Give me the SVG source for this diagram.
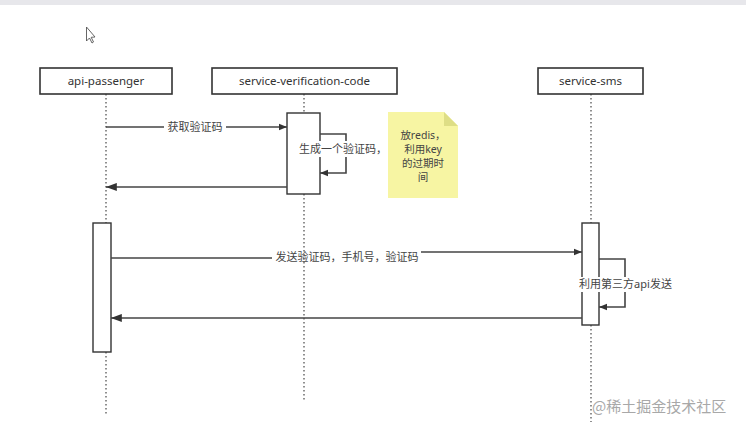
<svg xmlns="http://www.w3.org/2000/svg" width="746" height="429" viewBox="0 0 746 429">
<defs>
<style>
.box{fill:#fff;stroke:#333;stroke-width:1.6}
.act{fill:#fff;stroke:#333;stroke-width:1.4}
.life{stroke:#555;stroke-width:1.3;stroke-dasharray:1.5 2.5;fill:none}
.msg{stroke:#444;stroke-width:1.6;fill:none}
.t{font-family:"Noto Sans","Noto Sans CJK SC",sans-serif;font-size:11.5px;fill:#333;text-anchor:middle}
.lbl{font-family:"Noto Sans","Noto Sans CJK SC",sans-serif;font-size:11px;fill:#444;text-anchor:middle}
.nt{font-family:"Noto Sans","Noto Sans CJK SC",sans-serif;font-size:10.5px;fill:#444;text-anchor:middle}
</style>
<marker id="ah" viewBox="0 0 10 10" refX="10" refY="5" markerWidth="8" markerHeight="8" orient="auto" markerUnits="userSpaceOnUse">
<path d="M0,1 L10,5 L0,9 Z" fill="#333"/>
</marker>
<marker id="ahL" viewBox="0 0 12 10" refX="12" refY="5" markerWidth="11" markerHeight="9" orient="auto" markerUnits="userSpaceOnUse">
<path d="M0,0.5 L12,5 L0,9.5 Z" fill="#333"/>
</marker>
</defs>
<rect x="0" y="0" width="746" height="429" fill="#fff"/>
<rect x="0" y="0" width="746" height="5" fill="#e7e7eb"/>
<path d="M86.5,27 L86.5,41 L89.5,38 L92,43 L93.5,42 L91.2,37.3 L95,37 Z" fill="#fff" stroke="#555" stroke-width="0.9"/>

<g id="lifelines">
<path class="life" d="M106,94 V223 M106,352 V415"/>
<path class="life" d="M304,94 V113 M304,194 V402"/>
<path class="life" d="M591,94 V223 M591,325 V422"/>
</g>

<g id="api-passenger">
<rect class="box" x="40" y="68" width="132" height="26"/>
<text class="t" x="106" y="85">api-passenger</text>
</g>
<g id="service-verification-code">
<rect class="box" x="212" y="68" width="185" height="26"/>
<text class="t" x="304.5" y="85">service-verification-code</text>
</g>
<g id="service-sms">
<rect class="box" x="538" y="68" width="105" height="26"/>
<text class="t" x="590.5" y="85">service-sms</text>
</g>

<g id="activations">
<rect class="act" x="287" y="113" width="33" height="81"/>
<rect class="act" x="93" y="223" width="18" height="129"/>
<rect class="act" x="582" y="223" width="17" height="102"/>
</g>

<g id="note">
<path d="M388,112 H444 L458,126 V198 H388 Z" fill="#f7f5a3"/>
<path d="M444,112 L458,126 H444 Z" fill="#dede86"/>
<text class="nt" x="423" y="139">放redis，</text>
<text class="nt" x="423" y="153">利用key</text>
<text class="nt" x="423" y="167">的过期时</text>
<text class="nt" x="423" y="181">间</text>
</g>

<g id="connectors">
<path class="msg" d="M106,127 H287" marker-end="url(#ah)"/>
<rect x="164" y="120" width="62" height="14" fill="#fff"/>
<text class="lbl" x="195" y="131">获取验证码</text>

<path class="msg" d="M320,134 H346 V173 H320" marker-end="url(#ah)"/>
<rect x="301" y="141" width="85" height="16" fill="#fff"/>
<text class="lbl" x="343" y="153">生成一个验证码，</text>

<path class="msg" d="M287,187 H106" marker-end="url(#ahL)"/>

<path class="msg" d="M111,258 H272"/>
<path class="msg" d="M421,252 H582" marker-end="url(#ah)"/>
<text class="lbl" x="347" y="261">发送验证码，手机号，验证码</text>

<path class="msg" d="M599,259 H625 V307 H599" marker-end="url(#ah)"/>
<rect x="577" y="277" width="97" height="15" fill="#fff"/>
<text class="lbl" x="625.5" y="288">利用第三方api发送</text>

<path class="msg" d="M582,318 H111" marker-end="url(#ahL)"/>
</g>

<text x="592" y="412" font-family="'Noto Sans CJK SC','Noto Sans',sans-serif" font-size="15" fill="#a8a8a8">@稀土掘金技术社区</text>
</svg>
